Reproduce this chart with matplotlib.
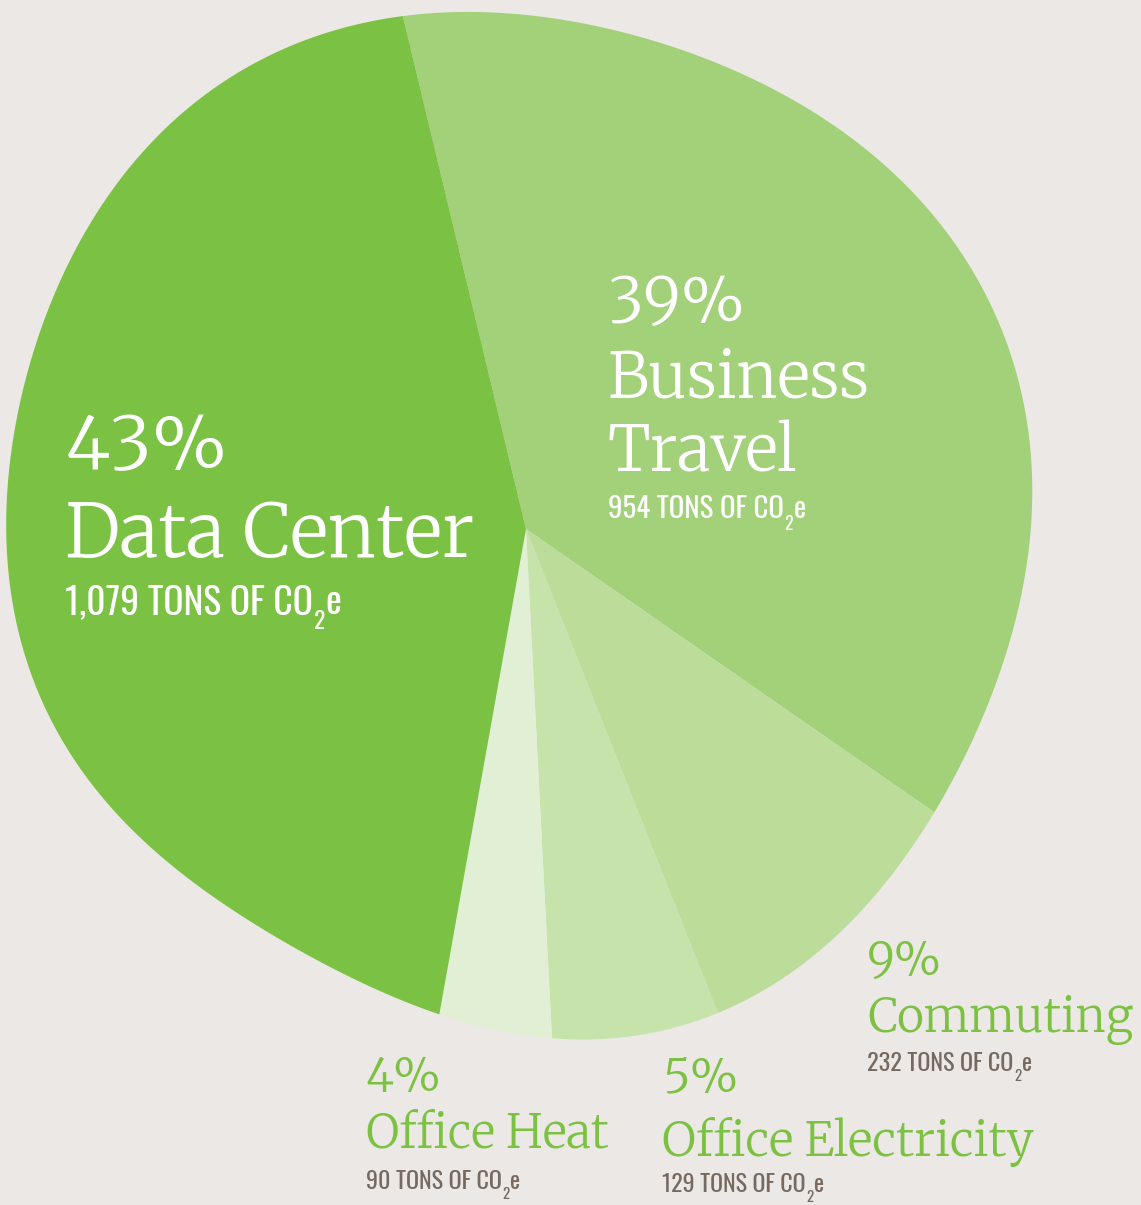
import numpy as np
import matplotlib
matplotlib.use("Agg")
import matplotlib.pyplot as plt
from matplotlib.path import Path
from matplotlib.patches import PathPatch
from matplotlib import font_manager

# Emission sources, in drawing order (clockwise from the top)
categories = ["Business Travel", "Commuting", "Office Electricity", "Office Heat", "Data Center"]
tons = [954, 232, 129, 90, 1079]
percent_labels = ["39%", "9%", "5%", "4%", "43%"]
tons_labels = ["954", "232", "129", "90", "1,079"]

colors = ["#A3D17A", "#BCDD9A", "#C6E3AC", "#E1EFD4", "#7BC143"]
BG = "#EBE8E5"
LABEL_GREEN = "#7CC142"
LABEL_GREY = "#766A60"

W, H = 1141, 1205

names = {f.name for f in font_manager.fontManager.ttflist}


def first_available(candidates, default):
    for c in candidates:
        if c in names:
            return c
    return default


SANS = first_available(["Oswald", "Barlow Condensed", "Roboto Condensed"], "DejaVu Sans")
SERIF = first_available(["Merriweather", "Noto Serif", "DejaVu Serif"], "DejaVu Serif")
SERIF_WEIGHT = 300

fig = plt.figure(figsize=(W / 100, H / 100), dpi=100, facecolor=BG)
ax = fig.add_axes([0, 0, 1, 1])
ax.set_facecolor(BG)

cx, cy = 526, H - 529
wedges, _ = ax.pie(tons, colors=colors, startangle=103.5, counterclock=False,
                   radius=700, center=(cx, cy),
                   wedgeprops=dict(linewidth=0, antialiased=True))
ax.set_xlim(0, W)
ax.set_ylim(0, H)
ax.axis("off")

# Organic outline of the pie: radius (px) sampled around the centre,
# smoothed with a short Fourier series
prof_deg = np.array([3.5, 12.2, 30.4, 48.8, 67.8, 85.0, 95.1, 102.6, 116.1, 129.7, 141.0,
                     155.0, 170.1, 181.2, 192.1, 212.9, 222.1, 231.9, 241.9, 261.5, 275.1,
                     294.4, 306.2, 321.4, 340.1, 351.8])
prof_r = np.array([508, 511, 516, 510, 503, 508, 519, 532, 533, 538, 537,
                   528, 519, 517, 519, 508, 484, 475, 486, 495, 509,
                   526, 506, 504, 491, 501])


def fourier_basis(theta, order):
    cols = [np.ones_like(theta)]
    for k in range(1, order + 1):
        cols += [np.cos(k * theta), np.sin(k * theta)]
    return np.column_stack(cols)


ORDER = 5
coef, *_ = np.linalg.lstsq(fourier_basis(np.radians(prof_deg), ORDER), prof_r, rcond=None)
theta = np.linspace(0, 2 * np.pi, 1440, endpoint=False)
radius = fourier_basis(theta, ORDER) @ coef
curve = np.column_stack([cx + radius * np.cos(theta), cy + radius * np.sin(theta)])
outline = Path(np.vstack([curve, curve[:1]]), closed=True)
clip_patch = PathPatch(outline, transform=ax.transData, facecolor="none", edgecolor="none")
for w in wedges:
    w.set_clip_on(True)
    w.set_clip_path(clip_patch)

renderer = fig.canvas.get_renderer()


def fit_size(text, family, width, weight="normal"):
    probe = ax.text(0, 0, text, family=family, fontsize=50, fontweight=weight)
    wpx = probe.get_window_extent(renderer).width
    probe.remove()
    return 50 * width / wpx


def tons_line(x, base, value, width, color):
    """'<value> TONS OF CO₂e' with a dropped subscript 2."""
    fs = fit_size(f"{value} TONS OF CO2e", SANS, width)
    y = H - base
    main = ax.text(x, y, f"{value} TONS OF CO", family=SANS, fontsize=fs, color=color,
                   va="baseline", ha="left", zorder=5)
    two = ax.annotate("2", xy=(1, y), xycoords=(main, "data"),
                      xytext=(0.6, -0.4 * fs), textcoords="offset points",
                      family=SANS, fontsize=fs * 0.62, color=color,
                      va="baseline", ha="left", zorder=5)
    ax.annotate("e", xy=(1, y), xycoords=(two, "data"),
                xytext=(0.3, 0), textcoords="offset points",
                family=SANS, fontsize=fs, color=color,
                va="baseline", ha="left", zorder=5)


def label(i, x, pct_base, name_base, tons_base, name_width, tons_width, color, sub_color,
          name_lines=None):
    lines = name_lines or [categories[i]]
    fs = fit_size(max(lines, key=len), SERIF, name_width, SERIF_WEIGHT)
    ax.text(x, H - pct_base, percent_labels[i], family=SERIF, fontsize=fs,
            fontweight=SERIF_WEIGHT, color=color, va="baseline", ha="left", zorder=5)
    for ln, b in zip(lines, name_base):
        ax.text(x, H - b, ln, family=SERIF, fontsize=fs, fontweight=SERIF_WEIGHT,
                color=color, va="baseline", ha="left", zorder=5)
    tons_line(x, tons_base, tons_labels[i], tons_width, sub_color)


label(4, 65, 470, [557], 614, 410, 282, "white", "white")
label(0, 608, 323, [397, 472], 518, 262, 202, "white", "white",
      name_lines=["Business", "Travel"])
label(1, 867, 976, [1032], 1071, 267, 168, LABEL_GREEN, LABEL_GREY)
label(2, 662, 1094, [1156], 1192, 372, 166, LABEL_GREEN, LABEL_GREY)
label(3, 366, 1092, [1148], 1189, 243, 158, LABEL_GREEN, LABEL_GREY)

fig.savefig("out.png", dpi=100, facecolor=BG)
